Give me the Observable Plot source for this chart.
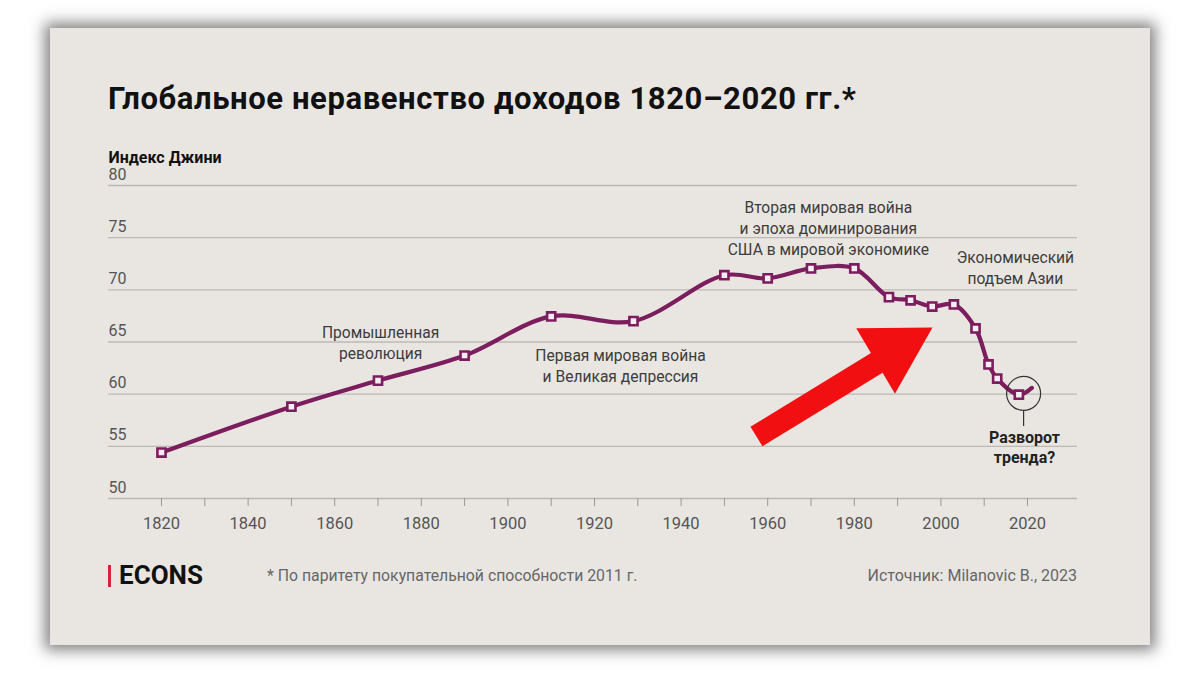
<!DOCTYPE html>
<html><head><meta charset="utf-8">
<script src="https://cdn.jsdelivr.net/npm/d3@7"></script>
<script src="https://cdn.jsdelivr.net/npm/@observablehq/plot@0.6"></script>
<style>
html,body{margin:0;padding:0;background:#fff;width:1200px;height:675px;overflow:hidden;font-family:Roboto,"Liberation Sans",sans-serif;}
#card{position:absolute;left:50px;top:28px;width:1100px;height:617px;background:#e9e6e2;box-shadow:0 0 14px 5px rgba(0,0,0,0.5);}
#title{position:absolute;left:58px;top:53px;font-size:31px;line-height:35px;font-weight:700;color:#111;letter-spacing:0.6px;white-space:nowrap;}
#chart{position:absolute;left:0;top:112px;}
#logo{position:absolute;left:58px;top:532px;font-size:26px;line-height:30px;font-weight:700;color:#111;white-space:nowrap;}
#logo span{display:inline-block;width:3px;height:22px;background:#d8233a;margin-right:8px;vertical-align:-3px;}
#note{position:absolute;left:217px;top:538px;font-size:15.8px;line-height:20px;color:#666;white-space:nowrap;}
#src{position:absolute;right:73px;top:538px;font-size:16px;line-height:20px;color:#666;white-space:nowrap;}
</style></head>
<body>
<div id="card">
  <div id="title">Глобальное неравенство доходов 1820–2020 гг.*</div>
  <div id="chart"></div>
  <div id="logo"><span></span>ECONS</div>
  <div id="note">* По паритету покупательной способности 2011 г.</div>
  <div id="src">Источник: Milanovic B., 2023</div>
</div>
<script>
const years = [1820,1850,1870,1890,1910,1929,1950,1960,1970,1980,1988,1993,1998,2003,2008,2011,2013,2018,2021];
const gini  = [54.4,58.8,61.3,63.7,67.45,67.0,71.4,71.1,72.05,72.05,69.3,69.0,68.4,68.6,66.3,62.85,61.5,59.95,60.6];
const markerCount = 18; // last point is the line end without marker
const yTicks = [50,55,60,65,70,75,80];
const xTicks = [1820,1830,1840,1850,1860,1870,1880,1890,1900,1910,1920,1930,1940,1950,1960,1970,1980,1990,2000,2010,2020];
const xLabels = [1820,1840,1860,1880,1900,1920,1940,1960,1980,2000,2020];

const noteTexts = ["Промышленная\nреволюция","Первая мировая война\nи Великая депрессия","Вторая мировая война\nи эпоха доминирования\nСША в мировой экономике","Экономический\nподъем Азии"];
const noteYears = [1870.6,1926,1974,2017.2];
const noteGini  = [65.0,62.8,76.0,72.2];

const turnLabel = "Разворот\nтренда?";
const turnPoint = {year:2019.1, gini:60.07};
const turnStem = {year:2019.1, from:58.44, to:56.9};
const turnText = {year:2019.3, gini:56.75};

const arrowShaft = {x1:1957.4, y1:55.94, x2:1986.0, y2:63.2};
const arrowHead = {x:1989.3, y:64.25, angle:59.5};

const data = years.map((y,i)=>({year:y, gini:gini[i]}));
const markers = data.slice(0, markerCount);
const notes = noteTexts.map((t,i)=>({text:t, year:noteYears[i], gini:noteGini[i]}));

const color = "#7c1d5e";
const red = "#f20f12";

const chart = Plot.plot({
  width:1100, height:400,
  marginLeft:58, marginRight:73, marginTop:45, marginBottom:42,
  x:{domain:[1820,2020], range:[111,977]},
  y:{domain:[50,80], axis:null},
  style:{background:"transparent", fontFamily:"Roboto, 'Liberation Sans', sans-serif", overflow:"visible"},
  marks:[
    Plot.ruleY(yTicks, {y:d=>d, stroke:"#bcb9b5", strokeWidth:1.3}),
    Plot.axisX({ticks:xTicks, tickSize:8, tickFormat:()=>"", stroke:"#9a9794"}),
    Plot.text(xLabels, {x:d=>d, y:50, dy:25, text:d=>String(d), fontSize:16.5, fill:"#555"}),
    Plot.text(yTicks, {y:d=>d, frameAnchor:"left", textAnchor:"start", dy:-11, text:d=>String(d), fontSize:16, fill:"#555"}),
    Plot.text(["Индекс Джини"], {y:80, frameAnchor:"left", textAnchor:"start", dy:-28, text:d=>d, fontSize:16, fontWeight:700, fill:"#111"}),
    Plot.text(notes, {x:"year", y:"gini", text:"text", fontSize:15.6, lineHeight:1.33, fill:"#3c3c3c"}),
    Plot.line(data, {x:"year", y:"gini", stroke:color, strokeWidth:4.2, curve:"catmull-rom"}),
    Plot.dot(markers, {x:"year", y:"gini", symbol:"square", r:4.6, fill:"#f6eef3", stroke:color, strokeWidth:2.6}),
    Plot.dot([turnPoint], {x:"year", y:"gini", r:17, fill:"none", stroke:"#333", strokeWidth:1.2}),
    Plot.ruleX([turnStem], {x:"year", y1:"from", y2:"to", stroke:"#333", strokeWidth:1.2}),
    Plot.text([turnText], {x:"year", y:"gini", text:()=>turnLabel, lineAnchor:"top", fontSize:16, fontWeight:700, lineHeight:1.28, fill:"#222"}),
    Plot.link([arrowShaft], {x1:"x1", y1:"y1", x2:"x2", y2:"y2", stroke:red, strokeWidth:23}),
    Plot.dot([arrowHead], {x:"x", y:"y", symbol:"triangle", r:28.3, fill:red, rotate:"angle"})
  ]
});
document.getElementById("chart").appendChild(chart);
</script>
</body></html>
